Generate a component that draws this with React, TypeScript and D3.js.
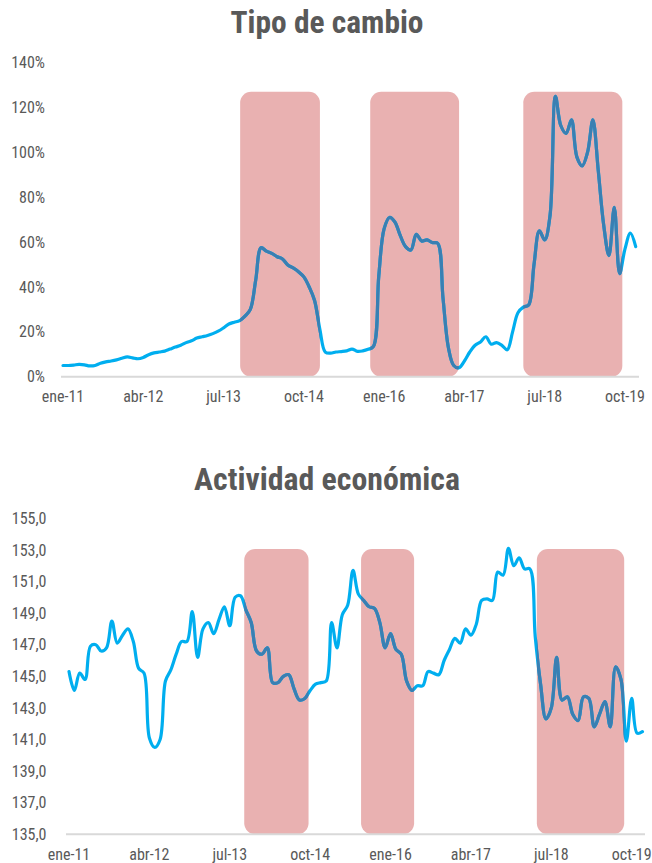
import * as d3 from "d3";

const WIDTH = 652;
const HEIGHT = 863;

// monthly, ene-11 .. dic-19
const TICK_LABELS = ["ene-11", "abr-12", "jul-13", "oct-14", "ene-16", "abr-17", "jul-18", "oct-19"];
const TICK_MONTHS = [0, 15, 30, 45, 60, 75, 90, 105];

const TIPO_CAMBIO = [
  5.0, 5.0, 5.2, 5.5, 5.3, 4.8, 5.0, 6.0, 6.6, 7.0, 7.5, 8.2,
  8.8, 8.4, 8.0, 8.6, 9.8, 10.6, 11.0, 11.4, 12.3, 13.2, 14.0, 15.2,
  16.0, 17.2, 17.8, 18.4, 19.2, 20.3, 21.8, 23.5, 24.3, 25.0, 27.0, 30.0,
  43.0, 57.5, 56.0, 55.0, 53.5, 52.5, 49.8, 48.5, 46.8, 44.5, 40.0, 34.0,
  21.0, 11.0, 10.5, 11.0, 11.2, 11.5, 12.3, 11.3, 11.5, 12.2, 13.5, 45.0,
  66.0, 71.0, 69.0, 63.0, 58.0, 56.5, 63.5, 60.5, 61.0, 59.8, 59.5, 35.0,
  13.0, 5.0, 4.0, 7.0, 11.0, 14.0, 15.5, 17.8, 14.5, 15.2, 14.0, 12.0,
  20.0, 28.5, 31.0, 32.0, 50.0, 65.0, 61.0, 72.0, 125.0, 112.0, 108.5, 114.5,
  98.0, 94.0, 100.0, 114.5, 92.0, 68.0, 54.0, 75.5, 46.0, 57.0, 64.0, 58.0,
];

const ACTIVIDAD = [
  145.3, 144.1, 145.2, 144.8, 146.9, 147.0, 146.6, 146.8, 148.5, 147.1, 147.6, 148.0,
  147.2, 145.5, 145.2, 141.1, 140.5, 141.0, 144.7, 145.4, 146.4, 147.2, 147.2, 149.1,
  146.2, 148.0, 148.4, 147.7, 148.6, 149.4, 148.2, 150.0, 150.1, 149.2, 148.4, 146.6,
  146.4, 146.8, 144.6, 144.6, 145.0, 145.1, 144.2, 143.5, 143.6, 144.1, 144.5, 144.6,
  144.7, 148.4, 146.8, 148.9, 149.5, 151.7, 150.2, 149.8, 149.4, 149.3, 148.4, 146.8,
  147.7, 146.7, 146.4, 144.7, 144.1, 144.4, 144.4, 145.3, 145.2, 145.1, 146.0, 146.7,
  147.4, 147.1, 148.0, 147.6, 148.3, 149.8, 149.9, 149.8, 151.6, 151.4, 153.1, 152.0,
  152.5, 151.8, 151.8, 147.5, 144.5, 142.3, 143.0, 146.2, 143.5, 143.7, 142.6, 142.2,
  143.7, 143.6, 141.8, 142.6, 143.4, 141.8, 145.6, 144.8, 140.9, 143.6, 141.4, 141.5,
];

// shaded periods, in months from ene-11
const TC_BANDS: [number, number][] = [[33.1, 48.0], [57.4, 74.0], [86.0, 104.5]];
const AE_BANDS: [number, number][] = [[32.7, 44.7], [54.5, 64.4], [87.3, 103.6]];
const TC_BAND_TOP = 127;
const AE_BAND_TOP = 153.05;

const TC_TICKS = [0, 20, 40, 60, 80, 100, 120, 140];
const AE_TICKS = [135, 137, 139, 141, 143, 145, 147, 149, 151, 153, 155];

const TEXT = "#595959";
const LIGHT = "#00aeef";
const DARK = "#3a7fb2";
const BAND = "#e9b1b1";
const FONT = "'Liberation Sans Narrow', 'Roboto Condensed', Roboto, sans-serif";

type PanelProps = {
  id: string;
  title: string;
  titleY: number;
  titleWidth: number;
  data: number[];
  bands: [number, number][];
  bandTop: number;
  ticks: number[];
  yDomain: [number, number];
  yRange: [number, number];
  xRange: [number, number];
  axisExtent: [number, number];
  labelRight: number;
  xLabelY: number;
  format: (v: number) => string;
};

function Panel(p: PanelProps) {
  const x = d3.scaleLinear().domain([0, 105]).range(p.xRange);
  const y = d3.scaleLinear().domain(p.yDomain).range(p.yRange);
  const line = d3
    .line<number>()
    .x((_, i) => x(i))
    .y((d) => y(d))
    .curve(d3.curveCatmullRom.alpha(0.5));
  const path = line(p.data) ?? "";
  const base = y(p.yDomain[0]);

  const bandRects = (keyPrefix: string, fill?: string) =>
    p.bands.map(([a, b], i) => (
      <rect
        key={`${keyPrefix}-${i}`}
        x={x(a)}
        y={y(p.bandTop)}
        width={x(b) - x(a)}
        height={base - y(p.bandTop)}
        rx={11}
        fill={fill}
      />
    ));

  return (
    <g>
      <defs>
        <clipPath id={`clip-${p.id}`}>{bandRects("c")}</clipPath>
      </defs>
      <text
        x={WIDTH / 2 + 1}
        y={p.titleY}
        textAnchor="middle"
        fontFamily={FONT}
        fontWeight="bold"
        fontSize={32}
        fill={TEXT}
        textLength={p.titleWidth}
        lengthAdjust="spacingAndGlyphs"
      >
        {p.title}
      </text>
      {bandRects("b", BAND)}
      <line x1={p.axisExtent[0]} x2={p.axisExtent[1]} y1={base} y2={base} stroke="#d9d9d9" strokeWidth={2} />
      <path d={path} fill="none" stroke={LIGHT} strokeWidth={3.2} strokeLinejoin="round" strokeLinecap="round" />
      <path
        d={path}
        fill="none"
        stroke={DARK}
        strokeWidth={3.2}
        strokeLinejoin="round"
        clipPath={`url(#clip-${p.id})`}
      />
      {p.ticks.map((t) => (
        <text
          key={t}
          x={p.labelRight}
          y={y(t)}
          dy="0.35em"
          textAnchor="end"
          fontFamily={FONT}
          fontSize={16}
          fill={TEXT}
        >
          {p.format(t)}
        </text>
      ))}
      {TICK_MONTHS.map((m, i) => (
        <text
          key={m}
          x={x(m)}
          y={p.xLabelY}
          textAnchor="middle"
          fontFamily={FONT}
          fontSize={16}
          fill={TEXT}
        >
          {TICK_LABELS[i]}
        </text>
      ))}
    </g>
  );
}

const fmtPct = (v: number) => `${v}%`;
const fmtComma = (v: number) => d3.format(".1f")(v).replace(".", ",");

export default function App() {
  return (
    <svg
      width={WIDTH}
      height={HEIGHT}
      viewBox={`0 0 ${WIDTH} ${HEIGHT}`}
      style={{ position: "absolute", left: 0, top: 0, background: "#fff" }}
    >
      <Panel
        id="tc"
        title="Tipo de cambio"
        titleY={33}
        titleWidth={193}
        data={TIPO_CAMBIO}
        bands={TC_BANDS}
        bandTop={TC_BAND_TOP}
        ticks={TC_TICKS}
        yDomain={[0, 140]}
        yRange={[376.7, 62.7]}
        xRange={[63, 625]}
        axisExtent={[61, 639]}
        labelRight={45}
        xLabelY={402}
        format={fmtPct}
      />
      <Panel
        id="ae"
        title="Actividad económica"
        titleY={490}
        titleWidth={266}
        data={ACTIVIDAD}
        bands={AE_BANDS}
        bandTop={AE_BAND_TOP}
        ticks={AE_TICKS}
        yDomain={[135, 155]}
        yRange={[834.3, 518.3]}
        xRange={[69, 631.7]}
        axisExtent={[66, 645]}
        labelRight={46.5}
        xLabelY={860}
        format={fmtComma}
      />
    </svg>
  );
}
